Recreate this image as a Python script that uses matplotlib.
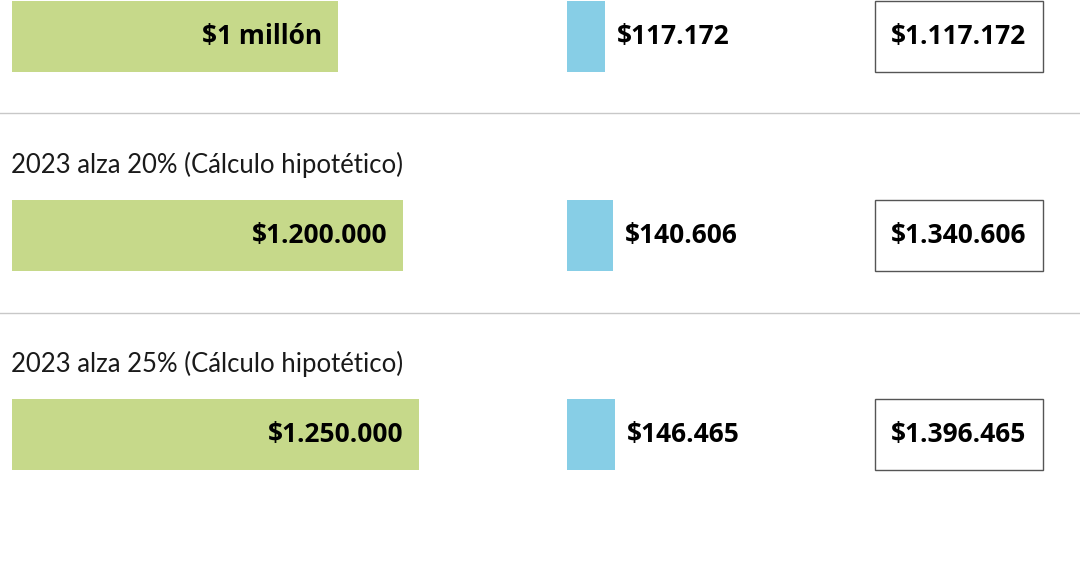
import matplotlib
matplotlib.use("Agg")
import matplotlib.pyplot as plt
from matplotlib.patches import Rectangle

# data
row_labels = ["", "2023 alza 20% (Cálculo hipotético)", "2023 alza 25% (Cálculo hipotético)"]
salario = [1000000, 1200000, 1250000]
salario_txt = ["$1 millón", "$1.200.000", "$1.250.000"]
subsidio = [117172, 140606, 146465]
subsidio_txt = ["$117.172", "$140.606", "$146.465"]
total_txt = ["$1.117.172", "$1.340.606", "$1.396.465"]

green = "#c6d98a"
blue = "#87cee6"

W, H = 1080, 567
px_per_peso = 326 / 1e6
x0_px = 12

fig = plt.figure(figsize=(W / 100, H / 100), dpi=100)
ax = fig.add_axes([0, 0, 1, 1])
ax.set_xlim(-x0_px / px_per_peso, (W - x0_px) / px_per_peso)
ax.set_ylim(H, 0)
ax.axis("off")

def px(p):
    # pixel -> data x
    return (p - x0_px) / px_per_peso

row_c = [36.5, 235.5, 434.5]
bar_h = 71
blue_left = px(567)

bold = dict(family=["Open Sans", "DejaVu Sans"], fontweight="bold", fontsize=19, color="black")

ax.barh(row_c, salario, height=bar_h, left=0, color=green)
ax.barh(row_c, subsidio, height=bar_h, left=blue_left, color=blue)

for i in range(len(salario)):
    y = row_c[i]
    ax.text(salario[i] - 16 / px_per_peso, y, salario_txt[i], ha="right", va="center", **bold)
    ax.text(blue_left + subsidio[i] + 12 / px_per_peso, y, subsidio_txt[i], ha="left", va="center", **bold)
    ax.add_patch(Rectangle((px(875), y - bar_h / 2), 168 / px_per_peso, bar_h,
                           facecolor="white", edgecolor="#555555", linewidth=1))
    ax.text(px(959), y, total_txt[i], ha="center", va="center", **bold)
    if row_labels[i]:
        ax.text(px(11), y - 71, row_labels[i], ha="left", va="center",
                family=["Lato", "DejaVu Sans"], fontweight="normal", fontsize=18.5, color="#1a1a1a")

for yl in [113, 313]:
    ax.axhline(yl, color="#c8c8c8", linewidth=1)

fig.savefig("out.png", dpi=100)
